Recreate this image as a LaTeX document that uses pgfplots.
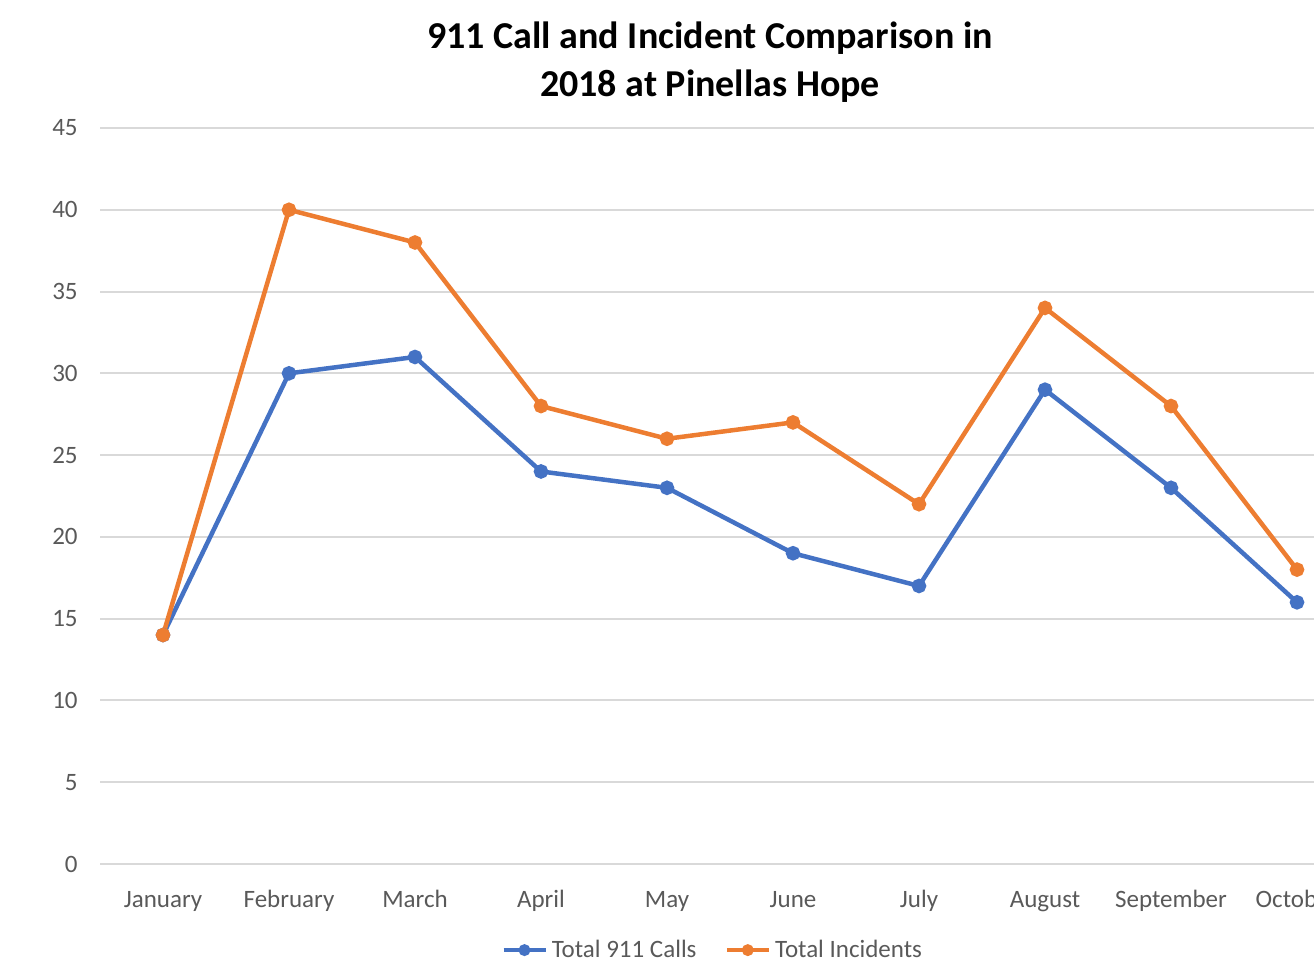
\documentclass[border=0pt]{standalone}
\usepackage{pgfplots}
\pgfplotsset{compat=1.18}
\usepackage{fontspec}
\setmainfont{Carlito}
\definecolor{cblue}{HTML}{4472C4}
\definecolor{corange}{HTML}{ED7D31}
\definecolor{ctext}{HTML}{595959}
\definecolor{cgrid}{HTML}{D9D9D9}
\begin{document}
\begin{tikzpicture}[x=0.5pt,y=0.5pt]
\useasboundingbox (0,0) rectangle (1314,965);
\clip (0,0) rectangle (1314,965);
\begin{axis}[
  at={(50pt,50.5pt)}, anchor=south west,
  scale only axis, width=630pt, height=368pt,
  xmin=-0.5, xmax=9.5, ymin=0, ymax=45,
  xtick={0,...,9},
  xticklabels={January,February,March,April,May,June,July,August,September,October},
  ytick={0,5,...,45},
  axis line style={draw=none},
  major tick length=0pt,
  ymajorgrids, grid style={draw=cgrid, line width=1pt},
  tick label style={font=\fontsize{12.5}{14}\selectfont, text=ctext},
  /pgf/number format/assume math mode=true,
  yticklabel style={anchor=east, inner sep=0pt, xshift=-11pt},
  xticklabel style={anchor=base, inner sep=0pt, yshift=-22pt},
  legend columns=2,
  legend style={draw=none, fill=none, at={(0.487,-0.117)}, anchor=center,
    font=\fontsize{12.5}{14}\selectfont, text=ctext,
    /tikz/every even column/.append style={column sep=12pt}},
  legend image code/.code={\draw[mark repeat=2,mark phase=2,#1,mark size=1.8pt] plot coordinates {(0pt,0pt) (10.5pt,0pt) (21pt,0pt)};},
  legend cell align=left,
]
\addplot[cblue, line width=2.25pt, mark=*, mark size=2.5pt] coordinates {
(0,14) (1,30) (2,31) (3,24) (4,23) (5,19) (6,17) (7,29) (8,23) (9,16)};
\addlegendentry{Total 911 Calls}
\addplot[corange, line width=2.25pt, mark=*, mark size=2.5pt] coordinates {
(0,14) (1,40) (2,38) (3,28) (4,26) (5,27) (6,22) (7,34) (8,28) (9,18)};
\addlegendentry{Total Incidents}
\end{axis}
\node[anchor=base, font=\fontsize{19}{22}\bfseries] at (710,965-49) {911 Call and Incident Comparison in};
\node[anchor=base, font=\fontsize{19}{22}\bfseries] at (710,965-97) {2018 at Pinellas Hope};
\end{tikzpicture}
\end{document}
